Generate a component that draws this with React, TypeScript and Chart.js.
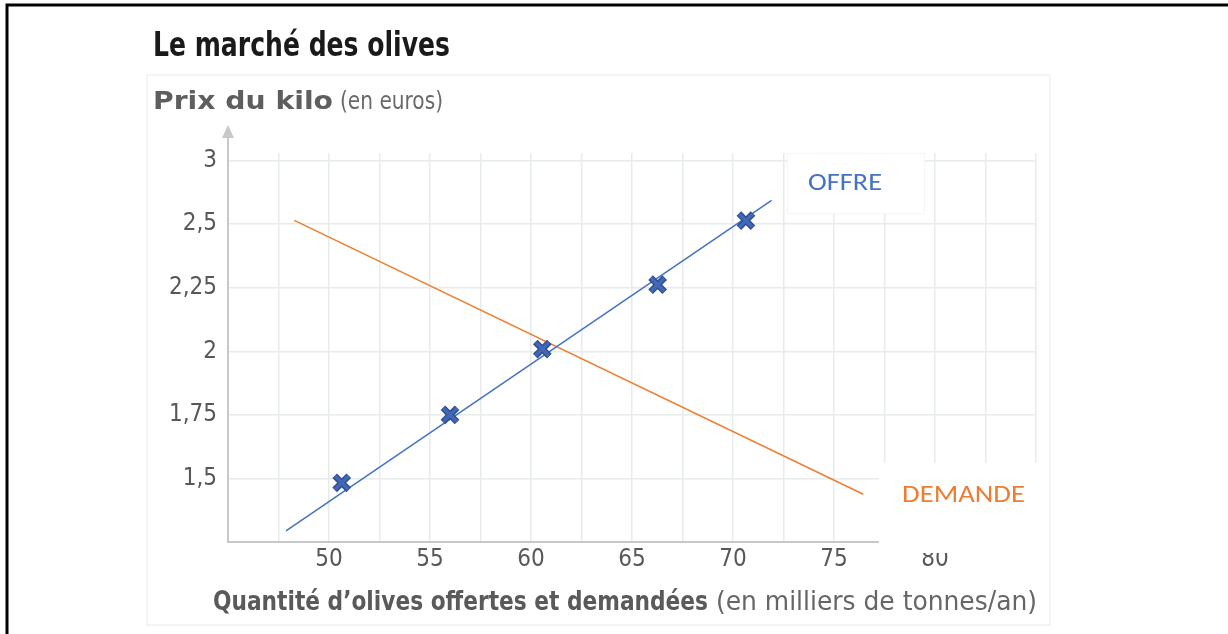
import React, { useEffect, useRef } from "react";
import { Chart, registerables } from "chart.js";

Chart.register(...registerables);

// ---- Data ----
const offreX = [47.87, 71.91];
const offreY = [1.294, 2.594];
const demandeX = [48.28, 76.45];
const demandeY = [2.515, 1.438];
const pointsX = [50.63, 55.99, 60.56, 66.27, 70.64];
const pointsY = [1.483, 1.75, 2.009, 2.262, 2.514];

const xGridValues = [45, 47.5, 50, 52.5, 55, 57.5, 60, 62.5, 65, 67.5, 70, 72.5, 75, 77.5, 80, 82.5, 85];
const xTickValues = [50, 55, 60, 65, 70, 75, 80];
const xTickLabels = ["50", "55", "60", "65", "70", "75", "80"];
const yTickValues = [1.25, 1.5, 1.75, 2, 2.25, 2.5, 2.75];
const yTickLabels = ["", "1,5", "1,75", "2", "2,25", "2,5", "3"];

const title = "Le marché des olives";
const yTitleBold = "Prix du kilo";
const yTitleRegular = "(en euros)";
const xTitleBold = "Quantité d’olives offertes et demandées";
const xTitleRegular = "(en milliers de tonnes/an)";
const offreLabel = "OFFRE";
const demandeLabel = "DEMANDE";

const NARROW = "'Liberation Sans Narrow', 'DejaVu Sans Condensed', 'Roboto', sans-serif";
const CALIBRI = "Carlito, Lato, 'Open Sans', sans-serif";

function fitText(
  ctx: CanvasRenderingContext2D,
  text: string,
  x: number,
  baseline: number,
  width: number,
  font: string,
  color: string
) {
  ctx.save();
  ctx.font = font;
  ctx.fillStyle = color;
  ctx.textAlign = "left";
  ctx.textBaseline = "alphabetic";
  const w = ctx.measureText(text).width || 1;
  ctx.translate(x, baseline);
  ctx.scale(width / w, 1);
  ctx.fillText(text, 0, 0);
  ctx.restore();
}

const decorPlugin = {
  id: "decor",
  beforeDraw(chart: any) {
    const ctx: CanvasRenderingContext2D = chart.ctx;
    ctx.save();
    ctx.fillStyle = "#ffffff";
    ctx.fillRect(0, 0, chart.width, chart.height);
    // faint figure frame
    ctx.strokeStyle = "#f3f5f3";
    ctx.lineWidth = 2;
    ctx.strokeRect(147, 75, 903, 550);
    // black page frame (top + left)
    ctx.strokeStyle = "#000000";
    ctx.lineWidth = 3;
    ctx.beginPath();
    ctx.moveTo(7, 634);
    ctx.lineTo(7, 5);
    ctx.lineTo(1228, 5);
    ctx.stroke();
    ctx.restore();
  },
  afterDraw(chart: any) {
    const ctx: CanvasRenderingContext2D = chart.ctx;
    const area = chart.chartArea;
    ctx.save();
    // y axis extension + arrow
    ctx.strokeStyle = "#c8c8c8";
    ctx.lineWidth = 2;
    ctx.beginPath();
    ctx.moveTo(area.left, area.top);
    ctx.lineTo(area.left, 136);
    ctx.stroke();
    ctx.fillStyle = "#c8c8c8";
    ctx.beginPath();
    ctx.moveTo(area.left, 125);
    ctx.lineTo(area.left - 6, 138);
    ctx.lineTo(area.left + 6, 138);
    ctx.closePath();
    ctx.fill();

    // OFFRE box
    ctx.fillStyle = "#ffffff";
    ctx.fillRect(787, 153, 137, 60);
    ctx.strokeStyle = "#f5f7f5";
    ctx.lineWidth = 1;
    ctx.strokeRect(787.5, 153.5, 137, 60);
    // DEMANDE box
    ctx.fillStyle = "#ffffff";
    ctx.fillRect(879, 463, 170, 90);
    ctx.restore();

    fitText(ctx, offreLabel, 808, 190, 74, `25px ${CALIBRI}`, "#4472C4");
    fitText(ctx, demandeLabel, 902, 502, 123, `25px ${CALIBRI}`, "#ED7D31");

    // titles
    fitText(ctx, title, 153, 56, 297, `bold 34px ${NARROW}`, "#1a1a1a");
    fitText(ctx, yTitleBold, 153, 109, 180, `bold 24px ${NARROW}`, "#5e5e5e");
    fitText(ctx, yTitleRegular, 340, 109, 103, `24px ${NARROW}`, "#6a6a6a");
    fitText(ctx, xTitleBold, 213, 610, 495, `bold 26px ${NARROW}`, "#5a5a5a");
    fitText(ctx, xTitleRegular, 716, 610, 321, `26px ${NARROW}`, "#666666");
  },
};

export default function App() {
  const canvasRef = useRef<HTMLCanvasElement | null>(null);

  useEffect(() => {
    const canvas = canvasRef.current;
    if (!canvas) return;
    const pts = pointsX.map((x, i) => ({ x, y: pointsY[i] }));
    const chart = new Chart(canvas, {
      type: "scatter",
      data: {
        datasets: [
          {
            label: "points-top",
            data: pts,
            pointStyle: "crossRot",
            pointRadius: 9.5,
            borderColor: "#4268b5",
            borderWidth: 3.5,
            showLine: false,
          },
          {
            label: "points",
            data: pts,
            pointStyle: "crossRot",
            pointRadius: 10,
            borderColor: "#2d4f93",
            borderWidth: 6.5,
            showLine: false,
          },
          {
            label: "Offre",
            data: offreX.map((x, i) => ({ x, y: offreY[i] })),
            showLine: true,
            borderColor: "#4472C4",
            borderWidth: 1.5,
            pointRadius: 0,
          },
          {
            label: "Demande",
            data: demandeX.map((x, i) => ({ x, y: demandeY[i] })),
            showLine: true,
            borderColor: "#ED7D31",
            borderWidth: 1.5,
            pointRadius: 0,
          },
        ],
      },
      options: {
        animation: false,
        responsive: false,
        devicePixelRatio: 1,
        events: [],
        layout: { padding: { top: 153, right: 192, bottom: 0, left: 0 } },
        plugins: {
          legend: { display: false },
          tooltip: { enabled: false },
          title: { display: false },
        },
        scales: {
          x: {
            type: "linear",
            min: 45,
            max: 85,
            afterBuildTicks: (s: any) => {
              s.ticks = xGridValues.map((v) => ({ value: v }));
            },
            afterFit: (s: any) => {
              s.height = 92;
            },
            ticks: {
              autoSkip: false,
              maxRotation: 0,
              padding: 3,
              color: "#585858",
              font: { family: NARROW, size: 24 },
              callback: (v: any) => {
                const i = xTickValues.indexOf(Number(v));
                return i >= 0 ? xTickLabels[i] : "";
              },
            },
            grid: { color: "#e6ece9", lineWidth: 1.5, drawTicks: false },
            border: { color: "#c8c8c8", width: 2 },
          },
          y: {
            type: "linear",
            min: 1.25,
            max: 2.78,
            afterBuildTicks: (s: any) => {
              s.ticks = yTickValues.map((v) => ({ value: v }));
            },
            afterFit: (s: any) => {
              s.width = 228;
            },
            ticks: {
              autoSkip: false,
              padding: 11,
              color: "#585858",
              font: { family: NARROW, size: 24 },
              callback: (v: any) => {
                const i = yTickValues.indexOf(Number(v));
                return i >= 0 ? yTickLabels[i] : "";
              },
            },
            grid: { color: "#e6ece9", lineWidth: 1.5, drawTicks: false },
            border: { color: "#c8c8c8", width: 2 },
          },
        },
      },
      plugins: [decorPlugin],
    });
    return () => chart.destroy();
  }, []);

  return (
    <div style={{ position: "fixed", left: 0, top: 0, width: 1228, height: 634, background: "#fff" }}>
      <canvas ref={canvasRef} width={1228} height={634} style={{ display: "block" }} />
    </div>
  );
}
